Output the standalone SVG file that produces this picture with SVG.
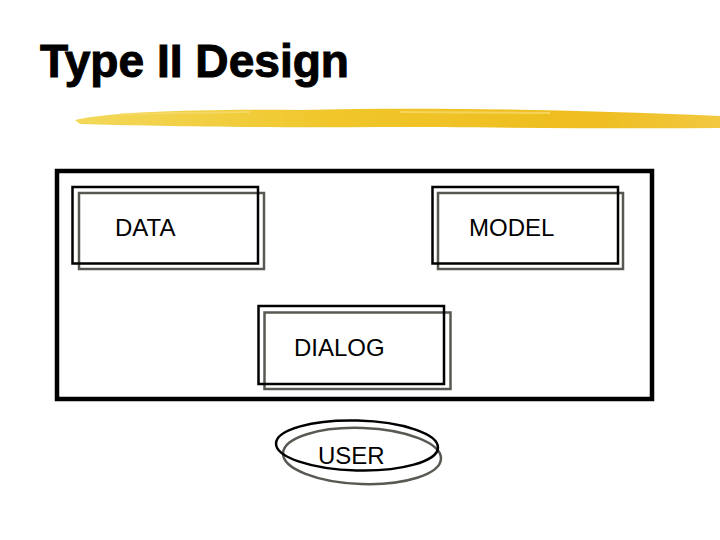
<svg xmlns="http://www.w3.org/2000/svg" width="720" height="540" viewBox="0 0 720 540">
<style>
.title{font-family:"Liberation Sans",Arial,sans-serif;font-weight:bold;font-size:46px;fill:#000;stroke:#000;stroke-width:1}
.lbl{font-family:"Liberation Sans",Arial,sans-serif;font-size:24px;fill:#000}
.fr{fill:none;stroke:#000;stroke-width:2.5}
.bk{fill:none;stroke:#5a5853;stroke-width:2.5}
</style>
<defs>
<linearGradient id="yb" x1="0" y1="0" x2="1" y2="0">
<stop offset="0" stop-color="#f3d85a"/>
<stop offset="0.4" stop-color="#f0c62a"/>
<stop offset="0.8" stop-color="#eebd1f"/>
<stop offset="1" stop-color="#f2c840"/>
</linearGradient>
</defs>
<rect width="720" height="540" fill="#fff"/>
<text class="title" x="40" y="77" textLength="309" lengthAdjust="spacingAndGlyphs">Type II Design</text>
<path d="M75,120 C110,112 200,109 300,110 C420,107 560,109 720,116 L720,128 C600,129 480,127 380,127 C260,128 150,126 80,124 Z" fill="url(#yb)"/>
<path d="M120,113 L250,111 L250,113 L120,115 Z M400,111 L550,112 L550,114 L400,113 Z" fill="#f6dc70" opacity="0.7"/>
<g id="system">
<rect x="57" y="171" width="595" height="228" fill="none" stroke="#000" stroke-width="4.5"/>
</g>
<g id="data">
<rect class="bk" x="79" y="193" width="185" height="76"/>
<rect class="fr" x="72.5" y="187" width="185.5" height="76.5"/>
<text class="lbl" x="115" y="236">DATA</text>
</g>
<g id="model">
<rect class="bk" x="438" y="193" width="185" height="76"/>
<rect class="fr" x="432.5" y="187" width="185.5" height="76.5"/>
<text class="lbl" x="469" y="236">MODEL</text>
</g>
<g id="dialog">
<rect class="bk" x="264.5" y="312.5" width="186" height="76.5"/>
<rect class="fr" x="258.5" y="306" width="185.5" height="78"/>
<text class="lbl" x="294" y="356">DIALOG</text>
</g>
<g id="user">
<ellipse class="bk" cx="362" cy="456" rx="79" ry="28" transform="rotate(2 362 456)"/>
<ellipse class="fr" cx="357" cy="445.5" rx="81" ry="25" transform="rotate(1.5 357 445.5)"/>
<text class="lbl" x="318" y="464">USER</text>
</g>
<g id="connectors"></g>
</svg>
